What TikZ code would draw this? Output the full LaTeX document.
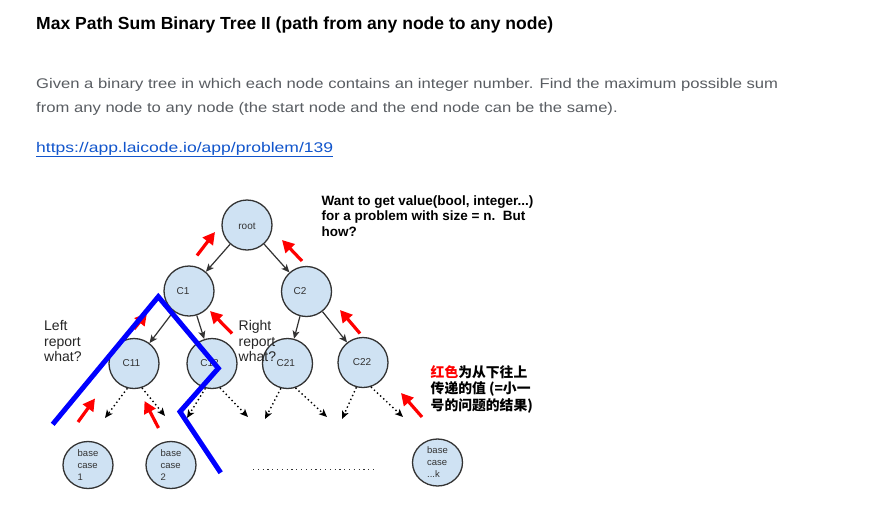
\documentclass[tikz,border=0pt]{standalone}
\usepackage{fontspec}
\setmainfont{Liberation Sans}
\newfontfamily\cjk{Noto Sans CJK SC}
\usepackage{graphicx}
\usetikzlibrary{arrows.meta,shapes.geometric}
\definecolor{nodefill}{HTML}{CFE2F3}
\definecolor{nodeline}{HTML}{333333}
\definecolor{textgray}{HTML}{595D62}
\definecolor{linkblue}{HTML}{1155CC}
\definecolor{pureblue}{HTML}{0000FF}
\definecolor{purered}{HTML}{FF0000}
\newsavebox\hdbox
\tikzset{
  treenode/.style={circle,draw=nodeline,fill=nodefill,line width=1.3pt,minimum size=50pt,inner sep=0pt},
  basenode/.style={ellipse,draw=nodeline,fill=nodefill,line width=1.3pt,minimum width=50pt,minimum height=47pt,inner sep=0pt,
    align=left,font=\fontsize{9.5}{12}\selectfont,text=nodeline},
  nodelabel/.style={inner sep=0pt,font=\fontsize{10}{12}\selectfont,text=nodeline},
  edge/.style={draw=nodeline,line width=1.2pt,-{Stealth[length=8pt,width=7pt,inset=2pt]}},
  dotarrow/.style={draw=black,line width=1.4pt,dash pattern=on 1.4pt off 2.8pt,-{Stealth[length=8pt,width=7pt,inset=2pt]}},
  redarrow/.style={draw=purered,line width=3.2pt,-{Triangle[length=12pt,width=12.5pt]}},
  blueline/.style={draw=pureblue,line width=5pt,line join=miter},
  plaintext/.style={anchor=base west,inner sep=0pt},
  sidetext/.style={plaintext,font=\fontsize{14}{16}\selectfont,text=black!85},
  wanttext/.style={plaintext,font=\bfseries\fontsize{13.5}{15}\selectfont,text=black},
  cjktext/.style={plaintext,font=\cjk\bfseries\fontsize{13.8}{16}\selectfont,text=black},
}
\begin{document}
\begin{tikzpicture}[x=1pt,y=-1pt]
\fill[white] (0,0) rectangle (873,528);
\useasboundingbox (0,0) rectangle (873,528);
% header texts
\node[plaintext] (title) at (36,29) {\sbox\hdbox{\bfseries\fontsize{17.5}{20}\selectfont Max Path Sum Binary Tree II (path from any node to any node)}%
  \pgfmathsetmacro\titlesc{517/\wd\hdbox}\scalebox{\titlesc}[1]{\usebox\hdbox}};
\node[plaintext,text=textgray] (par1) at (36,88.3) {\sbox\hdbox{\fontsize{14}{17}\selectfont Given a binary tree in which each node contains an integer number. Find the maximum possible sum}%
  \pgfmathsetmacro\parsc{742/\wd\hdbox}\global\let\parsc\parsc\scalebox{\parsc}[1]{\usebox\hdbox}};
\node[plaintext,text=textgray] (par2) at (36,112) {\scalebox{\parsc}[1]{\fontsize{14}{17}\selectfont from any node to any node (the start node and the end node can be the same).}};
\node[plaintext,text=linkblue] (link) at (36,152) {\sbox\hdbox{\fontsize{14}{17}\selectfont\underline{https://app.laicode.io/app/problem/139}}%
  \pgfmathsetmacro\linksc{297/\wd\hdbox}\scalebox{\linksc}[1]{\usebox\hdbox}};

% tree nodes
\node[treenode] (root) at (247,225) {};
\node[treenode] (C1) at (189,291) {};
\node[treenode] (C2) at (306.5,291.5) {};
\node[treenode] (C11) at (134,363.5) {};
\node[treenode] (C12) at (212,363.5) {};
\node[treenode] (C21) at (287.5,363.5) {};
\node[treenode] (C22) at (363,362.5) {};
\node[basenode] (b1) at (88,465) {base\\case\\1};
\node[basenode] (b2) at (171,465) {base\\case\\2};
\node[basenode] (bk) at (437.5,462.5) {base\\case\\...k};

\node[nodelabel] (rootT) at (247,226) {root};
\node[nodelabel] (C1T) at (183,291) {C1};
\node[nodelabel] (C2T) at (300,291.5) {C2};
\node[nodelabel] (C11T) at (131.5,363.5) {C11};
\node[nodelabel] (C12T) at (209.5,363.5) {C12};
\node[nodelabel] (C21T) at (285.8,363.5) {C21};
\node[nodelabel] (C22T) at (362,362.5) {C22};

% tree edges
\draw[edge] (root) -- (C1);
\draw[edge] (root) -- (C2);
\draw[edge] (C1) -- (C11);
\draw[edge] (C1) -- (C12);
\draw[edge] (C2) -- (C21);
\draw[edge] (C2) -- (C22);

% dotted arrows
\coordinate (d11l) at (105,418);
\coordinate (d11r) at (165,416);
\coordinate (d12l) at (187,418);
\coordinate (d12r) at (248,417);
\coordinate (d21l) at (265,419);
\coordinate (d21r) at (327,417);
\coordinate (d22l) at (342,419);
\coordinate (d22r) at (403,417);
\draw[dotarrow] (C11.-105) -- (d11l);
\draw[dotarrow] (C11.-72) -- (d11r);
\draw[dotarrow] (C12.-105) -- (d12l);
\draw[dotarrow] (C12.-72) -- (d12r);
\draw[dotarrow] (C21.-105) -- (d21l);
\draw[dotarrow] (C21.-72) -- (d21r);
\draw[dotarrow] (C22.-105) -- (d22l);
\draw[dotarrow] (C22.-72) -- (d22r);
\coordinate (dotsA) at (253,469.3);
\coordinate (dotsB) at (375,469.3);
\draw[draw=black!80,line width=1.2pt,dash pattern=on 1.2pt off 3.6pt] (dotsA) -- (dotsB);

% red arrows
\coordinate (r1a) at (197,255.5); \coordinate (r1b) at (215,232);
\coordinate (r2a) at (302,261);   \coordinate (r2b) at (282,240);
\coordinate (r3a) at (134,329);   \coordinate (r3b) at (147,313);
\coordinate (r4a) at (232,333.5); \coordinate (r4b) at (210,311);
\coordinate (r5a) at (360,333.5); \coordinate (r5b) at (340,310);
\coordinate (r6a) at (78,422);    \coordinate (r6b) at (95,398.5);
\coordinate (r7a) at (158.5,428); \coordinate (r7b) at (144.5,401);
\coordinate (r8a) at (422,417);   \coordinate (r8b) at (401,393);
\foreach \i in {1,...,8} {\draw[redarrow] (r\i a) -- (r\i b);}

% blue path
\coordinate (p1) at (52.7,424.3);
\coordinate (p2) at (158.3,296.7);
\coordinate (p3) at (218.3,368.3);
\coordinate (p4) at (180,411.7);
\coordinate (p5) at (220.7,472.7);
\draw[blueline] (p1) -- (p2) -- (p3) -- (p4) -- (p5);

% side texts
\node[sidetext] (left1) at (44,330.5) {Left};
\node[sidetext] (left2) at (44,346) {report};
\node[sidetext] (left3) at (44,361.7) {what?};
\node[sidetext] (right1) at (238.5,330.5) {Right};
\node[sidetext] (right2) at (238.5,346) {report};
\node[sidetext] (right3) at (238.5,361.7) {what?};

\node[wanttext] (want1) at (321.5,205) {Want to get value(bool, integer...)};
\node[wanttext] (want2) at (321.5,220.5) {for a problem with size = n.\ \ But};
\node[wanttext] (want3) at (321.5,236) {how?};

\node[cjktext] (zh1) at (430.5,377.5) {\textcolor{purered}{红色}为从下往上};
\node[cjktext] (zh2) at (430.5,393.8) {传递的值 (=小一};
\node[cjktext] (zh3) at (430.5,410) {号的问题的结果)};
\end{tikzpicture}
\end{document}
